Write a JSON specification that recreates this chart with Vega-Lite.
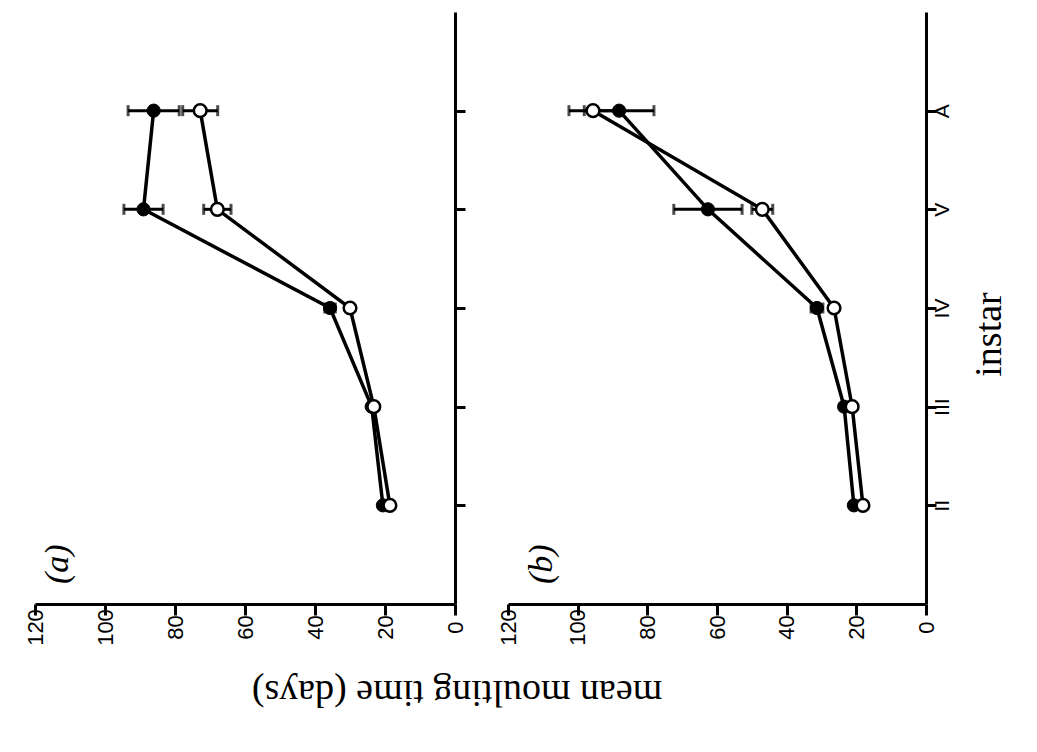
{
  "$schema": "https://vega.github.io/schema/vega-lite/v6.json",
  "background": "white",
  "padding": {"left": 23, "top": 12, "right": 5, "bottom": 5},
  "config": {
    "view": {"stroke": null},
    "axis": {"domainColor": "black", "tickColor": "black", "labelColor": "black", "titleColor": "black", "grid": false}
  },
  "title": {"text": "mean moulting time (days)", "orient": "bottom", "angle": 180, "baseline": "bottom", "font": "Liberation Serif", "fontSize": 38, "fontWeight": "normal", "anchor": "middle", "offset": 28, "dx": 59, "color": "black"},
  "data": {"values": [
    {"panel": "a", "series": "filled", "instar": "II", "k": 1, "mean": 20.6, "err": 0},
    {"panel": "a", "series": "filled", "instar": "III", "k": 2, "mean": 23.8, "err": 0},
    {"panel": "a", "series": "filled", "instar": "IV", "k": 3, "mean": 35.7, "err": 1.5},
    {"panel": "a", "series": "filled", "instar": "V", "k": 4, "mean": 89.0, "err": 5.6},
    {"panel": "a", "series": "filled", "instar": "A", "k": 5, "mean": 86.1, "err": 7.3},
    {"panel": "a", "series": "open", "instar": "II", "k": 1, "mean": 18.6, "err": 0},
    {"panel": "a", "series": "open", "instar": "III", "k": 2, "mean": 23.2, "err": 0},
    {"panel": "a", "series": "open", "instar": "IV", "k": 3, "mean": 30.0, "err": 0},
    {"panel": "a", "series": "open", "instar": "V", "k": 4, "mean": 67.9, "err": 3.9},
    {"panel": "a", "series": "open", "instar": "A", "k": 5, "mean": 72.8, "err": 5.0},
    {"panel": "b", "series": "filled", "instar": "II", "k": 1, "mean": 20.7, "err": 0},
    {"panel": "b", "series": "filled", "instar": "III", "k": 2, "mean": 23.5, "err": 0},
    {"panel": "b", "series": "filled", "instar": "IV", "k": 3, "mean": 31.3, "err": 1.7},
    {"panel": "b", "series": "filled", "instar": "V", "k": 4, "mean": 62.6, "err": 9.8},
    {"panel": "b", "series": "filled", "instar": "A", "k": 5, "mean": 88.1, "err": 10.0},
    {"panel": "b", "series": "open", "instar": "II", "k": 1, "mean": 18.1, "err": 0},
    {"panel": "b", "series": "open", "instar": "III", "k": 2, "mean": 21.2, "err": 0},
    {"panel": "b", "series": "open", "instar": "IV", "k": 3, "mean": 26.4, "err": 0},
    {"panel": "b", "series": "open", "instar": "V", "k": 4, "mean": 47.0, "err": 3.0},
    {"panel": "b", "series": "open", "instar": "A", "k": 5, "mean": 95.6, "err": 6.9}
  ]},
  "spacing": 29,
  "hconcat": [
    {
      "width": 420,
      "height": 592,
      "title": {"text": "(a)", "orient": "left", "anchor": "start", "frame": "group", "offset": -51, "dx": 20, "font": "Liberation Serif", "fontStyle": "italic", "fontWeight": "normal", "fontSize": 34, "color": "black"},
      "transform": [{"filter": "datum.panel == 'a'"}],
      "encoding": {
        "x": {"field": "mean", "type": "quantitative", "scale": {"domain": [0, 120], "reverse": true, "nice": false},
          "axis": {"orient": "bottom", "values": [0, 20, 40, 60, 80, 100, 120], "title": null, "labelAngle": 270, "labelAlign": "center", "labelBaseline": "middle", "labelFont": "Liberation Sans", "labelFontSize": 22, "labelPadding": 12, "tickSize": 11, "tickWidth": 3, "domainWidth": 3, "labelFlush": false, "labelOverlap": false}},
        "y": {"field": "instar", "type": "ordinal", "scale": {"type": "point", "domain": ["A", "V", "IV", "III", "II"], "padding": 1},
          "axis": {"orient": "right", "title": null, "labels": false, "tickSize": 10, "tickWidth": 3, "domainWidth": 3}}
      },
      "layer": [
        {"mark": {"type": "line", "color": "black", "strokeWidth": 3.5}, "encoding": {"detail": {"field": "series"}, "order": {"field": "k"}}},
        {"transform": [{"filter": "datum.err > 0"}], "mark": {"type": "errorbar", "color": "black", "ticks": {"size": 11, "thickness": 3, "color": "black"}, "rule": {"strokeWidth": 3, "color": "black"}}, "encoding": {"xError": {"field": "err"}}},
        {"transform": [{"filter": "datum.series == 'filled'"}], "mark": {"type": "point", "shape": "circle", "filled": true, "fill": "black", "stroke": "black", "strokeWidth": 1, "size": 175, "opacity": 1}},
        {"transform": [{"filter": "datum.series == 'open'"}], "mark": {"type": "point", "shape": "circle", "filled": true, "fill": "white", "stroke": "black", "strokeWidth": 2.5, "size": 160, "opacity": 1}}
      ]
    },
    {
      "width": 418,
      "height": 592,
      "title": {"text": "(b)", "orient": "left", "anchor": "start", "frame": "group", "offset": -62, "dx": 20, "font": "Liberation Serif", "fontStyle": "italic", "fontWeight": "normal", "fontSize": 34, "color": "black"},
      "transform": [{"filter": "datum.panel == 'b'"}],
      "encoding": {
        "x": {"field": "mean", "type": "quantitative", "scale": {"domain": [0, 120], "reverse": true, "nice": false},
          "axis": {"orient": "bottom", "values": [0, 20, 40, 60, 80, 100, 120], "title": null, "labelAngle": 270, "labelAlign": "center", "labelBaseline": "middle", "labelFont": "Liberation Sans", "labelFontSize": 22, "labelPadding": 12, "tickSize": 11, "tickWidth": 3, "domainWidth": 3, "labelFlush": false, "labelOverlap": false}},
        "y": {"field": "instar", "type": "ordinal", "scale": {"type": "point", "domain": ["A", "V", "IV", "III", "II"], "padding": 1},
          "axis": {"orient": "right", "title": "instar", "titleAngle": 270, "titleBaseline": "top", "titleFont": "Liberation Serif", "titleFontSize": 38, "titleFontWeight": "normal", "titlePadding": 18, "titleY": 322, "labelAngle": 270, "labelAlign": "center", "labelBaseline": "middle", "labelFont": "Liberation Sans", "labelFontSize": 21, "labelPadding": 6, "tickSize": 10, "tickWidth": 3, "domainWidth": 3}}
      },
      "layer": [
        {"mark": {"type": "line", "color": "black", "strokeWidth": 3.5}, "encoding": {"detail": {"field": "series"}, "order": {"field": "k"}}},
        {"transform": [{"filter": "datum.err > 0"}], "mark": {"type": "errorbar", "color": "black", "ticks": {"size": 11, "thickness": 3, "color": "black"}, "rule": {"strokeWidth": 3, "color": "black"}}, "encoding": {"xError": {"field": "err"}}},
        {"transform": [{"filter": "datum.series == 'filled'"}], "mark": {"type": "point", "shape": "circle", "filled": true, "fill": "black", "stroke": "black", "strokeWidth": 1, "size": 175, "opacity": 1}},
        {"transform": [{"filter": "datum.series == 'open'"}], "mark": {"type": "point", "shape": "circle", "filled": true, "fill": "white", "stroke": "black", "strokeWidth": 2.5, "size": 160, "opacity": 1}}
      ]
    }
  ]
}
